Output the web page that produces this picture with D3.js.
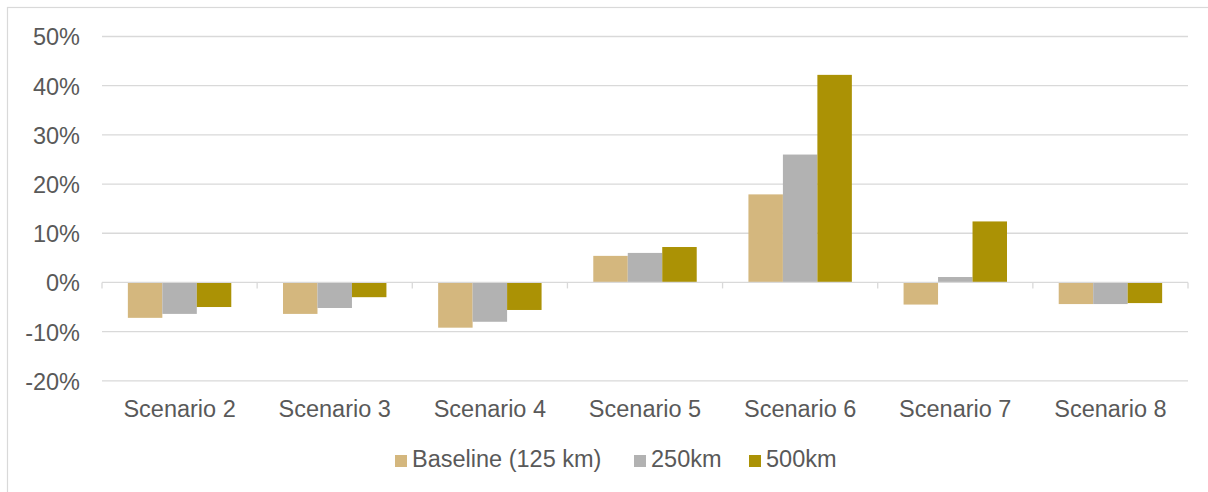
<!DOCTYPE html>
<html>
<head>
<meta charset="utf-8">
<script src="https://cdn.jsdelivr.net/npm/d3@7/dist/d3.min.js"></script>
<style>
  html, body { margin: 0; padding: 0; background: #fff; }
  svg { display: block; font-family: "Liberation Sans", Arial, sans-serif; }
</style>
</head>
<body>
<svg id="chart" width="1208" height="492"></svg>
<script>
// Change relative to scenario 1, per scenario and link distance
const categories = ["Scenario 2", "Scenario 3", "Scenario 4", "Scenario 5", "Scenario 6", "Scenario 7", "Scenario 8"];
const seriesNames = ["Baseline (125 km)", "250km", "500km"];
const baseline125 = [-7.2, -6.4, -9.2, 5.4, 17.9, -4.5, -4.4];
const km250 = [-6.4, -5.2, -8.0, 6.0, 26.0, 1.1, -4.4];
const km500 = [-5.0, -3.0, -5.6, 7.2, 42.2, 12.4, -4.2];
const yTicks = [-20, -10, 0, 10, 20, 30, 40, 50];
const colors = ["#D4B77E", "#B2B2B2", "#AB9205"];

const seriesValues = [baseline125, km250, km500];

const svg = d3.select("#chart");
const W = 1208, H = 492;
const margin = { left: 102, right: 20, top: 36.5, plotBottom: 380.8 };

// Outer chart frame (only the top and left edges fall inside the view)
svg.append("rect")
  .attr("x", 7.5).attr("y", 7.5)
  .attr("width", W + 10).attr("height", H + 10)
  .attr("fill", "none").attr("stroke", "#d9d9d9").attr("stroke-width", 1.2);

const x0 = d3.scaleBand()
  .domain(categories)
  .range([102, 1188])
  .paddingInner(0).paddingOuter(0);

const barW = x0.bandwidth() / 4.5;
const x1 = d3.scaleBand()
  .domain(seriesNames)
  .range([barW * 0.75, barW * 3.75]);

const y = d3.scaleLinear()
  .domain([-20, 50])
  .range([margin.plotBottom, margin.top]);

// Horizontal gridlines
svg.append("g")
  .selectAll("line")
  .data(yTicks.filter(t => t !== 0))
  .join("line")
  .attr("x1", 102).attr("x2", 1188)
  .attr("y1", d => y(d)).attr("y2", d => y(d))
  .attr("stroke", "#d9d9d9").attr("stroke-width", 1.3);

// Y axis labels
const yAxis = d3.axisLeft(y)
  .tickValues(yTicks)
  .tickFormat(d => d + "%")
  .tickSize(0)
  .tickPadding(0);
const yg = svg.append("g").attr("transform", "translate(80,0)").call(yAxis);
yg.select(".domain").remove();
yg.selectAll("text")
  .attr("fill", "#595959")
  .attr("font-size", "23.5px")
  .attr("font-family", "'Liberation Sans', Arial, sans-serif")
  .attr("dy", "0.36em");

// Bars
const groups = svg.append("g")
  .selectAll("g")
  .data(categories)
  .join("g")
  .attr("transform", d => `translate(${x0(d)},0)`);

groups.selectAll("rect")
  .data((d, i) => seriesNames.map((s, j) => ({ s, v: seriesValues[j][i], c: colors[j] })))
  .join("rect")
  .attr("x", d => x1(d.s))
  .attr("width", x1.bandwidth())
  .attr("y", d => y(Math.max(0, d.v)))
  .attr("height", d => Math.abs(y(d.v) - y(0)))
  .attr("fill", d => d.c);

// Category axis along zero
const xAxisG = svg.append("g").attr("transform", `translate(0,${y(0)})`);
xAxisG.append("line")
  .attr("x1", 102).attr("x2", 1188)
  .attr("stroke", "#d9d9d9").attr("stroke-width", 1.3);
const boundaries = categories.map(c => x0(c)).concat([x0.range()[1]]);
xAxisG.selectAll("line.tick")
  .data(boundaries)
  .join("line")
  .attr("class", "tick")
  .attr("x1", d => d).attr("x2", d => d)
  .attr("y1", 0).attr("y2", 6)
  .attr("stroke", "#d9d9d9").attr("stroke-width", 1.3);

// Category labels under the plot
svg.append("g")
  .selectAll("text")
  .data(categories)
  .join("text")
  .attr("x", d => x0(d) + x0.bandwidth() / 2)
  .attr("y", 416.5)
  .attr("text-anchor", "middle")
  .attr("fill", "#595959")
  .attr("font-size", "23.5px")
  .text(d => d);

// Legend
const legendItems = [
  { name: seriesNames[0], c: colors[0], x: 395 },
  { name: seriesNames[1], c: colors[1], x: 634 },
  { name: seriesNames[2], c: colors[2], x: 749 }
];
const lg = svg.append("g");
lg.selectAll("rect")
  .data(legendItems)
  .join("rect")
  .attr("x", d => d.x).attr("y", 455)
  .attr("width", 12).attr("height", 12)
  .attr("fill", d => d.c);
lg.selectAll("text")
  .data(legendItems)
  .join("text")
  .attr("x", d => d.x + 17).attr("y", 467)
  .attr("fill", "#595959")
  .attr("font-size", "23.5px")
  .text(d => d.name);
</script>
</body>
</html>
